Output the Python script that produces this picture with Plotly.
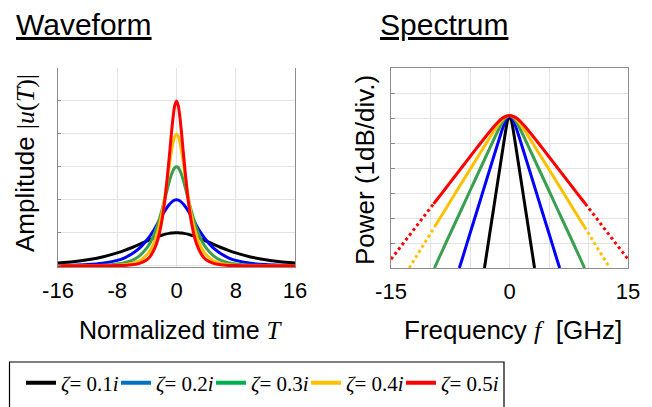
import plotly.graph_objects as go

# ---------------- data ----------------
LABELS = ["<i>ζ</i>= 0.1<i>i</i>", "<i>ζ</i>= 0.2<i>i</i>", "<i>ζ</i>= 0.3<i>i</i>",
          "<i>ζ</i>= 0.4<i>i</i>", "<i>ζ</i>= 0.5<i>i</i>"]
PLOT_COLORS = ["#000000", "#0000FF", "#3A9F4F", "#FFC000", "#FF0000"]
LEGEND_COLORS = ["#000000", "#0070C0", "#00B050", "#FFC000", "#FF0000"]

# Waveform |u(T)| (arbitrary units, 1 unit per grid division)
T = [-16, -14, -12, -10, -8, -7, -6, -5, -4, -3.5, -3, -2.5, -2, -1.5, -1, -0.75, -0.5, -0.25, 0,
     0.25, 0.5, 0.75, 1, 1.5, 2, 2.5, 3, 3.5, 4, 5, 6, 7, 8, 10, 12, 14, 16]
U_01 = [0.081, 0.121, 0.180, 0.266, 0.388, 0.465, 0.552, 0.648, 0.748, 0.797, 0.844, 0.887, 0.925, 0.957,
        0.980, 0.989, 0.995, 0.999, 1.000, 0.999, 0.995, 0.989, 0.980, 0.957, 0.925, 0.887, 0.844, 0.797,
        0.748, 0.648, 0.552, 0.465, 0.388, 0.266, 0.180, 0.121, 0.081]
U_02 = [0.007, 0.015, 0.033, 0.073, 0.16, 0.24, 0.36, 0.53, 0.78, 0.93, 1.10, 1.30, 1.50, 1.69, 1.85, 1.91,
        1.96, 1.99, 2.00, 1.99, 1.96, 1.91, 1.85, 1.69, 1.50, 1.30, 1.10, 0.93, 0.78, 0.53, 0.36, 0.24, 0.16,
        0.073, 0.033, 0.015, 0.007]
U_03 = [0, 0.001, 0.004, 0.015, 0.05, 0.09, 0.16, 0.30, 0.54, 0.72, 0.97, 1.28, 1.66, 2.09, 2.53, 2.72,
        2.87, 2.97, 3.00, 2.97, 2.87, 2.72, 2.53, 2.09, 1.66, 1.28, 0.97, 0.72, 0.54, 0.30, 0.16, 0.09, 0.05,
        0.015, 0.004, 0.001, 0]
U_04 = [0, 0, 0, 0.003, 0.013, 0.03, 0.066, 0.15, 0.33, 0.48, 0.72, 1.06, 1.55, 2.21, 2.99, 3.38, 3.70,
        3.92, 4.00, 3.92, 3.70, 3.38, 2.99, 2.21, 1.55, 1.06, 0.72, 0.48, 0.33, 0.15, 0.066, 0.03, 0.013,
        0.003, 0, 0, 0]
U_05 = [0, 0, 0, 0, 0.003, 0.009, 0.025, 0.07, 0.18, 0.30, 0.50, 0.81, 1.33, 2.13, 3.24, 3.86, 4.43, 4.85,
        5.00, 4.85, 4.43, 3.86, 3.24, 2.13, 1.33, 0.81, 0.50, 0.30, 0.18, 0.07, 0.025, 0.009, 0.003, 0, 0, 0, 0]

# Spectrum (power in grid divisions, 1 dB/div) vs frequency in GHz
F_01 = [-3.17, -3, -2.5, -2, -1.5, -1, -0.5, -0.25, 0, 0.25, 0.5, 1, 1.5, 2, 2.5, 3, 3.17]
P_01 = [0, 0.35, 1.38, 2.40, 3.43, 4.45, 5.46, 5.90, 6.10, 5.90, 5.46, 4.45, 3.43, 2.40, 1.38, 0.35, 0]
F_02 = [-6.35, -6, -5, -4, -3, -2, -1.5, -1, -0.5, -0.25, 0, 0.25, 0.5, 1, 1.5, 2, 3, 4, 5, 6, 6.35]
P_02 = [0, 0.35, 1.38, 2.40, 3.43, 4.45, 4.96, 5.46, 5.90, 6.045, 6.10, 6.045, 5.90, 5.46, 4.96, 4.45,
        3.43, 2.40, 1.38, 0.35, 0]
F_03 = [-9.5, -9, -8, -7, -6, -5, -4, -3, -2, -1.5, -1, -0.5, 0, 0.5, 1, 1.5, 2, 3, 4, 5, 6, 7, 8, 9, 9.5]
P_03 = [0, 0.35, 1.04, 1.72, 2.40, 3.09, 3.77, 4.45, 5.13, 5.46, 5.77, 6.00, 6.10, 6.00, 5.77, 5.46, 5.13,
        4.45, 3.77, 3.09, 2.40, 1.72, 1.04, 0.35, 0]
F_04 = [-9.5, -9, -8, -7, -6, -5, -4, -3, -2, -1.5, -1, -0.5, 0, 0.5, 1, 1.5, 2, 3, 4, 5, 6, 7, 8, 9, 9.5]
P_04 = [1.64, 1.89, 2.40, 2.92, 3.43, 3.94, 4.45, 4.96, 5.46, 5.69, 5.90, 6.05, 6.10, 6.05, 5.90, 5.69,
        5.46, 4.96, 4.45, 3.94, 3.43, 2.92, 2.40, 1.89, 1.64]
F_04_TAIL = [-12.7, -12, -11, -10, -9.5, None, 9.5, 10, 11, 12, 12.7]
P_04_TAIL = [0, 0.35, 0.87, 1.38, 1.64, None, 1.64, 1.38, 0.87, 0.35, 0]
F_05 = [-9.6, -9, -8, -7, -6, -5, -4, -3, -2, -1.5, -1, -0.5, 0, 0.5, 1, 1.5, 2, 3, 4, 5, 6, 7, 8, 9, 9.6]
P_05 = [2.57, 2.81, 3.22, 3.63, 4.04, 4.45, 4.86, 5.26, 5.65, 5.82, 5.97, 6.06, 6.10, 6.06, 5.97, 5.82,
        5.65, 5.26, 4.86, 4.45, 4.04, 3.63, 3.22, 2.81, 2.57]
F_05_TAIL = [-15, -14, -13, -12, -11, -10, -9.6, None, 9.6, 10, 11, 12, 13, 14, 15]
P_05_TAIL = [0.35, 0.76, 1.17, 1.58, 1.99, 2.40, 2.57, None, 2.57, 2.40, 1.99, 1.58, 1.17, 0.76, 0.35]

WAVES = [U_01, U_02, U_03, U_04, U_05]
SPECS = [(F_01, P_01), (F_02, P_02), (F_03, P_03), (F_04, P_04), (F_05, P_05)]
TAILS = [None, None, None, (F_04_TAIL, P_04_TAIL), (F_05_TAIL, P_05_TAIL)]

# page body has an 8px margin: the figure sits at (8, 8) in the 652x407 window
OFF = 8
W, H = 652 - OFF, 407 - OFF


def px(x):   # window pixel x -> paper fraction
    return (x - OFF) / W


def py(y):   # window pixel y -> paper fraction
    return (H - (y - OFF)) / H


SANS = "Liberation Sans, Arial, sans-serif"
SERIF = "Liberation Serif, Times New Roman, serif"

fig = go.Figure()

for u, c in zip(WAVES, PLOT_COLORS):
    fig.add_trace(go.Scatter(x=T, y=u, mode="lines", xaxis="x", yaxis="y", showlegend=False,
                             line=dict(color=c, width=3, shape="spline", smoothing=0.6),
                             hoverinfo="skip"))
for (f, p), tail, c in zip(SPECS, TAILS, PLOT_COLORS):
    fig.add_trace(go.Scatter(x=f, y=p, mode="lines", xaxis="x2", yaxis="y2", showlegend=False,
                             line=dict(color=c, width=3, shape="spline", smoothing=0.5),
                             hoverinfo="skip"))
    if tail is not None:
        fig.add_trace(go.Scatter(x=tail[0], y=tail[1], mode="lines", xaxis="x2", yaxis="y2",
                                 showlegend=False, connectgaps=False,
                                 line=dict(color=c, width=3, dash="dot"), hoverinfo="skip"))
for i, (lab, c) in enumerate(zip(LABELS, LEGEND_COLORS)):
    fig.add_trace(go.Scatter(x=[None], y=[None], mode="lines", name=lab, xaxis="x", yaxis="y",
                             line=dict(color=c, width=4),
                             legendwidth=62 if i == len(LABELS) - 1 else 50))

AX_LINE = "#8c8c8c"
GRID = "#e3e3e3"
tickfont = dict(family=SANS, size=22, color="black")

fig.update_layout(
    width=W, height=H, template="none",
    paper_bgcolor="white", plot_bgcolor="white",
    margin=dict(l=0, r=0, t=0, b=0, autoexpand=False),
    xaxis=dict(domain=[px(58), px(295)], range=[-16, 16], tickvals=[-16, -8, 0, 8, 16],
               ticktext=["-16", "-8", "0", "8", "16"], showgrid=True, gridcolor=GRID, gridwidth=1,
               zeroline=False, showline=True, linecolor=AX_LINE, linewidth=1, ticks="",
               tickfont=tickfont, ticklabelstandoff=4, anchor="y"),
    yaxis=dict(domain=[py(267), py(68)], range=[-0.04, 6], tickvals=[0, 1, 2, 3, 4, 5, 6],
               showticklabels=False, showgrid=True, gridcolor=GRID, zeroline=False, showline=True,
               mirror=True, linecolor=AX_LINE, linewidth=1, ticks="inside", ticklen=3,
               tickcolor=AX_LINE, anchor="x"),
    xaxis2=dict(domain=[px(391), px(628)], range=[-15, 15], tickvals=[-15, -10, -5, 0, 5, 10, 15],
                ticktext=["-15", "", "", "0", "", "", "15"], showgrid=True, gridcolor=GRID,
                zeroline=False, showline=True, mirror=True, linecolor=AX_LINE, linewidth=1, ticks="",
                tickfont=tickfont, ticklabelstandoff=4, anchor="y2"),
    yaxis2=dict(domain=[py(268), py(68)], range=[0, 8], tickvals=list(range(9)),
                showticklabels=False, showgrid=True, gridcolor=GRID, zeroline=False, showline=True,
                mirror=True, linecolor=AX_LINE, linewidth=1, ticks="inside", ticklen=4,
                tickcolor=AX_LINE, anchor="x2"),
    legend=dict(orientation="h", x=px(21), xanchor="left", y=py(383), yanchor="middle",
                bgcolor="rgba(0,0,0,0)", borderwidth=0, entrywidth=50, entrywidthmode="pixels",
                font=dict(family=SERIF, size=21, color="black"), tracegroupgap=0),
    showlegend=True,
)

ann = [
    dict(text="<u>Waveform</u>", x=px(14), y=py(24), xanchor="left", yanchor="middle",
         font=dict(family=SANS, size=30, color="black")),
    dict(text="<u>Spectrum</u>", x=px(378), y=py(24), xanchor="left", yanchor="middle",
         font=dict(family=SANS, size=30, color="black")),
    dict(text="Normalized time <span style='font-family:Liberation Serif'><i>T</i></span>",
         x=px(181), y=py(330), xanchor="center", yanchor="middle",
         font=dict(family=SANS, size=25, color="black")),
    dict(text="Frequency <span style='font-family:Liberation Serif'><i>f</i></span>  [GHz]",
         x=px(513), y=py(330), xanchor="center", yanchor="middle",
         font=dict(family=SANS, size=26, color="black")),
    dict(text="Amplitude <span style='font-family:Liberation Serif'>|<i>u</i>(<i>T</i>)|</span>",
         x=px(25), y=py(163), xanchor="center", yanchor="middle", textangle=-90,
         font=dict(family=SANS, size=26, color="black")),
    dict(text="Power (1dB/div.)", x=px(365), y=py(170), xanchor="center", yanchor="middle",
         textangle=-90, font=dict(family=SANS, size=26, color="black")),
]
for a in ann:
    a.update(xref="paper", yref="paper", showarrow=False)
fig.update_layout(annotations=ann)

fig.add_shape(type="rect", xref="paper", yref="paper", x0=px(9.5), x1=px(504), y0=-0.2,
              y1=py(362), line=dict(color="black", width=1.2), fillcolor="rgba(0,0,0,0)",
              layer="below")

fig.write_html("out.html")
